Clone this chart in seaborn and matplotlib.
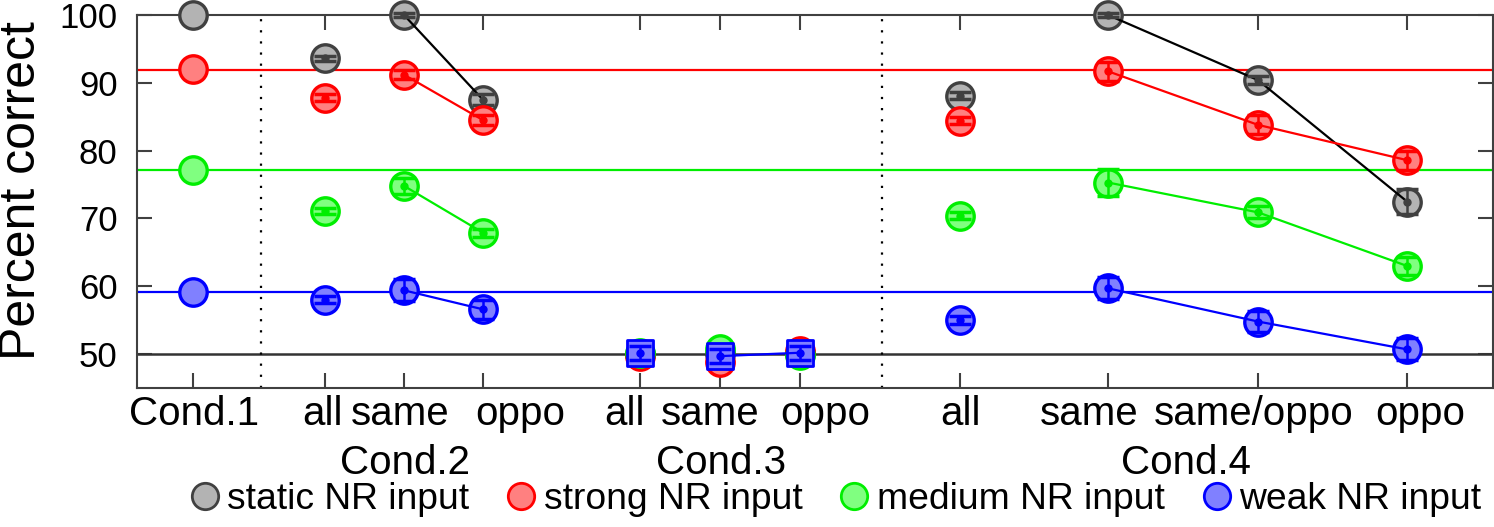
import numpy as np
import pandas as pd
import matplotlib
matplotlib.use('Agg')
import matplotlib.pyplot as plt
from matplotlib.lines import Line2D
import matplotlib.transforms as mtransforms
import seaborn as sns

# Tick labels along x and the condition group labels
CATEGORIES = ['Cond.1', 'all', 'same', 'oppo', 'all', 'same', 'oppo',
              'all', 'same', 'same/oppo', 'oppo']
GROUPS = ['Cond.2', 'Cond.3', 'Cond.4']
SERIES = ['static NR input', 'strong NR input', 'medium NR input',
          'weak NR input']

# Percent correct per category
STATIC = [100.0, 93.6, 100.0, 87.5, 50.0, 50.0, 50.0, 88.1, 100.0, 90.4, 72.5]
STRONG = [92.0, 87.8, 91.2, 84.5, 49.7, 48.8, 50.4, 84.4, 91.7, 83.8, 78.6]
MEDIUM = [77.2, 71.1, 74.8, 67.9, 50.2, 50.7, 49.9, 70.4, 75.3, 70.9, 63.0]
WEAK = [59.2, 58.0, 59.4, 56.6, 50.2, 49.7, 50.2, 55.0, 59.7, 54.8, 50.7]

# Error bar half-widths
STATIC_ERR = [0, 0.4, 0.3, 0.8, 0.5, 0.5, 0.5, 0.5, 0.3, 0.6, 1.8]
STRONG_ERR = [0, 0.5, 0.7, 0.7, 0.8, 0.8, 0.8, 0.5, 1.4, 1.4, 1.4]
MEDIUM_ERR = [0, 0.5, 1.2, 0.6, 0.8, 0.8, 0.8, 0.5, 2.0, 0.9, 1.3]
WEAK_ERR = [0, 0.5, 1.6, 1.4, 1.0, 1.0, 1.0, 0.6, 1.6, 1.5, 1.6]

# Cond.1 reference levels (strong, medium, weak) and chance level
BASELINES = [91.9, 77.1, 59.1]
CHANCE = 50

# Layout: x slot of each category, label nudges (px), separators, runs
X_POS = [193, 325, 404, 483, 640, 720, 800, 960, 1108, 1258, 1407]
LABEL_SHIFT = [1, -3, -4, 37, -16, -10, 25, 0, -19, -4, 13]
GROUP_X = [405, 721, 1186]
SEPARATORS = [261, 882]
RUNS = [[[2, 3], [8, 9, 10]],
        [[2, 3], [8, 9, 10]],
        [[2, 3], [8, 9, 10]],
        [[2, 3], [5, 6], [8, 9, 10]]]

FACES = ['#b3b3b3', '#ff8080', '#80ff80', '#8080ff']
EDGES = ['#404040', '#ff0000', '#00ee00', '#0000ff']
LINES = ['#000000', '#ff0000', '#00ee00', '#0000ff']

sns.set_style('ticks')
plt.rcParams['font.family'] = ['Liberation Sans', 'DejaVu Sans']
plt.rcParams['text.color'] = 'black'
plt.rcParams['axes.labelcolor'] = 'black'
plt.rcParams['xtick.labelcolor'] = 'black'
plt.rcParams['ytick.labelcolor'] = 'black'


def main():
    values = [STATIC, STRONG, MEDIUM, WEAK]
    errors = [STATIC_ERR, STRONG_ERR, MEDIUM_ERR, WEAK_ERR]

    rows = []
    for s, name in enumerate(SERIES):
        for i, cat in enumerate(CATEGORIES):
            rows.append({'series': name, 'idx': i, 'x': X_POS[i],
                         'value': values[s][i], 'err': errors[s][i]})
    df = pd.DataFrame(rows)

    fig = plt.figure(figsize=(14.94, 5.27), dpi=100)
    ax = fig.add_axes([137 / 1494, 1 - 388 / 527,
                       (1493 - 137) / 1494, (388 - 15) / 527])

    # Reference lines
    for lvl, col in zip(BASELINES, LINES[1:]):
        ax.axhline(lvl, color=col, lw=1.6, zorder=1)
    ax.axhline(CHANCE, color='#333333', lw=1.8, zorder=1)
    for sx in SEPARATORS:
        ax.axvline(sx, color='black', ls=(0, (1, 4)), lw=1.6, zorder=1)

    for s, name in enumerate(SERIES):
        sdf = df[df.series == name]
        z = 3 + s * 4

        # Big circles (weak series drawn as squares in Cond.3)
        if s == 3:
            circ = sdf[~sdf.idx.isin([4, 5, 6])]
            sq = sdf[sdf.idx.isin([4, 5, 6])]
            sns.scatterplot(data=sq, x='x', y='value', marker='s', s=330,
                            color=FACES[s], edgecolor=EDGES[s], linewidth=2,
                            ax=ax, zorder=z, clip_on=False, legend=False)
        else:
            circ = sdf
        sns.scatterplot(data=circ, x='x', y='value', marker='o', s=390,
                        color=FACES[s], edgecolor=EDGES[s], linewidth=2.4,
                        ax=ax, zorder=z, clip_on=False, legend=False)

        # Connecting lines
        for run in RUNS[s]:
            rdf = sdf[sdf.idx.isin(run)]
            sns.lineplot(data=rdf, x='x', y='value', color=LINES[s], lw=1.6,
                         ax=ax, zorder=z + 1, legend=False, sort=False)

        # Error bars and mean dots (not for Cond.1)
        edf = sdf[sdf.idx > 0]
        ax.errorbar(edf.x, edf.value, yerr=edf.err, fmt='o', ms=5,
                    color=EDGES[s], ecolor=EDGES[s], elinewidth=1.8,
                    capsize=8, capthick=2.5, zorder=z + 2, clip_on=False)

    # Axes formatting
    ax.set_xlim(137, 1493)
    ax.set_ylim(45, 100)
    ax.set_xticks(X_POS)
    ax.set_xticklabels([''] * len(X_POS))
    ax.set_yticks(range(50, 101, 10))
    ax.set_yticklabels([str(v) for v in range(50, 101, 10)], fontsize=25)
    ax.tick_params(direction='in', length=11, width=1.5, top=True,
                   right=True, color='#404040', labelcolor='black')
    ax.tick_params(axis='y', pad=14)
    ax.set_xlabel('')
    ax.set_ylabel('Percent correct', fontsize=36)
    ax.yaxis.set_label_coords(-0.068, 0.53)
    for sp in ax.spines.values():
        sp.set_color('#404040')
        sp.set_linewidth(1.5)

    # Category labels (nudged like the original) and group labels
    trans = mtransforms.blended_transform_factory(ax.transData, ax.transAxes)
    for xp, dx, cat in zip(X_POS, LABEL_SHIFT, CATEGORIES):
        ax.text(xp + dx, -0.019, cat, transform=trans, ha='center',
                va='top', fontsize=29)
    for gx, g in zip(GROUP_X, GROUPS):
        ax.text(gx, -0.2, g, transform=trans, ha='center', va='center',
                fontsize=29)

    # Legend
    handles = [Line2D([], [], ls='none', marker='o', ms=19,
                      markerfacecolor=FACES[s], markeredgecolor=EDGES[s],
                      markeredgewidth=2) for s in range(len(SERIES))]
    fig.legend(handles, SERIES, loc='center', ncol=4, frameon=False,
               bbox_to_anchor=(0.558, 0.053), fontsize=26.8,
               handletextpad=0.1, columnspacing=0.9, handlelength=1.0,
               borderaxespad=0)

    fig.savefig('out.png', dpi=100)
    plt.close(fig)


if __name__ == '__main__':
    main()
